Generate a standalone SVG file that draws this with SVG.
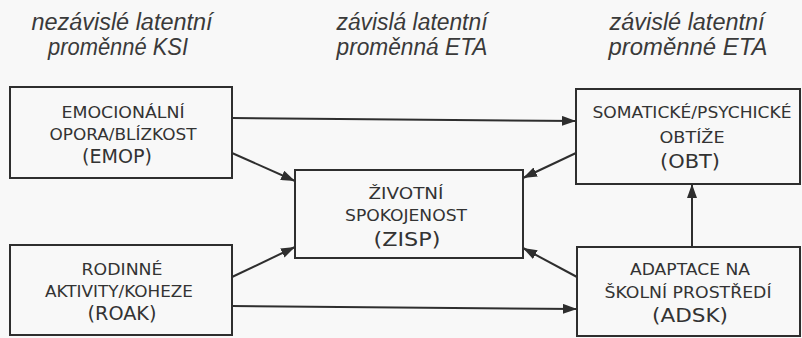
<svg xmlns="http://www.w3.org/2000/svg" width="802" height="338" viewBox="0 0 802 338">
<defs>
<style>
.hdr{font-family:"Liberation Sans",Arial,sans-serif;font-style:italic;font-size:23px;fill:#3a3a3a;text-anchor:middle}
.box{fill:none;stroke:#2e2e2e;stroke-width:2}
.t{font-family:"DejaVu Sans",sans-serif;font-size:15px;fill:#333;text-anchor:middle}
.tb{font-family:"DejaVu Sans",sans-serif;font-size:19px;fill:#333;text-anchor:middle}
.c{stroke:#2e2e2e;stroke-width:2;fill:none;marker-end:url(#ah)}
</style>
<marker id="ah" viewBox="0 0 14 10" refX="14" refY="5" markerWidth="14" markerHeight="10" markerUnits="userSpaceOnUse" orient="auto">
<path d="M0,0 L14,5 L0,10 Z" fill="#2e2e2e"/>
</marker>
</defs>
<rect width="802" height="338" fill="#f8f8f8"/>
<g id="headers">
<text class="hdr" x="122" y="30" textLength="181" lengthAdjust="spacingAndGlyphs">nezávislé latentní</text>
<text class="hdr" x="118" y="55" textLength="140" lengthAdjust="spacingAndGlyphs">proměnné KSI</text>
<text class="hdr" x="412" y="30" textLength="151" lengthAdjust="spacingAndGlyphs">závislá latentní</text>
<text class="hdr" x="412" y="55" textLength="151" lengthAdjust="spacingAndGlyphs">proměnná ETA</text>
<text class="hdr" x="687" y="30" textLength="155" lengthAdjust="spacingAndGlyphs">závislé latentní</text>
<text class="hdr" x="688" y="55" textLength="159" lengthAdjust="spacingAndGlyphs">proměnné ETA</text>
</g>
<g id="connectors">
<line class="c" x1="232" y1="118" x2="576" y2="121"/>
<line class="c" x1="232" y1="153" x2="295" y2="181"/>
<line class="c" x1="232" y1="277" x2="295" y2="247"/>
<line class="c" x1="232" y1="306" x2="577" y2="309"/>
<line class="c" x1="576" y1="153" x2="523" y2="178"/>
<line class="c" x1="577" y1="277" x2="523" y2="248"/>
<line class="c" x1="692" y1="247" x2="692" y2="184"/>
</g>
<g id="EMOP">
<rect class="box" x="10" y="87" width="222" height="91"/>
<text class="t" x="123" y="118" textLength="123" lengthAdjust="spacingAndGlyphs">EMOCIONÁLNÍ</text>
<text class="t" x="123" y="140" textLength="147" lengthAdjust="spacingAndGlyphs">OPORA/BLÍZKOST</text>
<text class="tb" x="117" y="163" textLength="70" lengthAdjust="spacingAndGlyphs">(EMOP)</text>
</g>
<g id="ZISP">
<rect class="box" x="295" y="170" width="228" height="88"/>
<text class="t" x="406" y="199" textLength="75" lengthAdjust="spacingAndGlyphs">ŽIVOTNÍ</text>
<text class="t" x="406" y="221" textLength="122" lengthAdjust="spacingAndGlyphs">SPOKOJENOST</text>
<text class="tb" x="407" y="246" textLength="67" lengthAdjust="spacingAndGlyphs">(ZISP)</text>
</g>
<g id="OBT">
<rect class="box" x="576" y="89" width="224" height="95"/>
<text class="t" x="692" y="118" textLength="199" lengthAdjust="spacingAndGlyphs">SOMATICKÉ/PSYCHICKÉ</text>
<text class="t" x="692" y="143" textLength="65" lengthAdjust="spacingAndGlyphs">OBTÍŽE</text>
<text class="tb" x="690" y="168" textLength="60" lengthAdjust="spacingAndGlyphs">(OBT)</text>
</g>
<g id="ROAK">
<rect class="box" x="10" y="245" width="222" height="90"/>
<text class="t" x="122" y="275" textLength="81" lengthAdjust="spacingAndGlyphs">RODINNÉ</text>
<text class="t" x="119" y="297" textLength="148" lengthAdjust="spacingAndGlyphs">AKTIVITY/KOHEZE</text>
<text class="tb" x="122" y="320" textLength="69" lengthAdjust="spacingAndGlyphs">(ROAK)</text>
</g>
<g id="ADSK">
<rect class="box" x="577" y="247" width="223" height="89"/>
<text class="t" x="690" y="275" textLength="120" lengthAdjust="spacingAndGlyphs">ADAPTACE NA</text>
<text class="t" x="688" y="298" textLength="167" lengthAdjust="spacingAndGlyphs">ŠKOLNÍ PROSTŘEDÍ</text>
<text class="tb" x="690" y="322" textLength="76" lengthAdjust="spacingAndGlyphs">(ADSK)</text>
</g>
</svg>
